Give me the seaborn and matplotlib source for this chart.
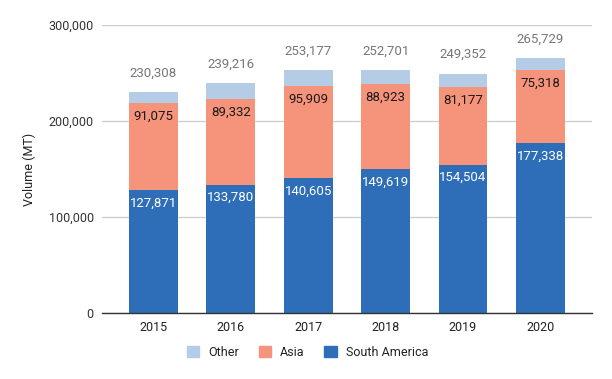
import numpy as np
import pandas as pd
import matplotlib
matplotlib.use('Agg')
import matplotlib.pyplot as plt
import seaborn as sns
from matplotlib.patches import Patch

years = ['2015', '2016', '2017', '2018', '2019', '2020']
south_america = [127871, 133780, 140605, 149619, 154504, 177338]
asia = [91075, 89332, 95909, 88923, 81177, 75318]
totals = [230308, 239216, 253177, 252701, 249352, 265729]
other = [t - s - a for t, s, a in zip(totals, south_america, asia)]

c_sa = '#2e6eb8'
c_asia = '#f5937b'
c_other = '#b4cce6'

sns.set_theme(style='white')
plt.rcParams['font.family'] = ['Roboto', 'DejaVu Sans']

df = pd.DataFrame({'year': years, 'sa': south_america, 'asia': asia, 'other': other})
df['sa_asia'] = df['sa'] + df['asia']
df['total'] = df['sa_asia'] + df['other']

fig = plt.figure(figsize=(6.12, 3.79), dpi=100)
ax = fig.add_axes([0.1667, 0.174, 0.8003, 0.76])

# stacked: draw cumulative heights back to front
for col, c in [('total', c_other), ('sa_asia', c_asia), ('sa', c_sa)]:
    sns.barplot(data=df, x='year', y=col, color=c, width=0.63, saturation=1,
                linewidth=0, ax=ax)

for i in range(len(years)):
    ax.annotate(f'{south_america[i]:,}', xy=(i, df['sa'][i]), xytext=(0, -13),
                textcoords='offset pixels', ha='center', va='center', color='white', fontsize=9.5)
    ax.annotate(f'{asia[i]:,}', xy=(i, df['sa_asia'][i]), xytext=(0, -13),
                textcoords='offset pixels', ha='center', va='center', color='#1a1a1a', fontsize=9.5)
    ax.annotate(f'{totals[i]:,}', xy=(i, df['total'][i]), xytext=(0, 19),
                textcoords='offset pixels', ha='center', va='center', color='#777777', fontsize=9.5)

ax.set_ylim(0, 300000)
ax.set_xlim(-0.665, 5.665)
ax.set_yticks([0, 100000, 200000, 300000])
ax.set_yticklabels([f'{v:,}' for v in [0, 100000, 200000, 300000]])
ax.grid(axis='y', color='#cccccc', linewidth=0.9)
ax.set_axisbelow(True)
for s in ['top', 'right', 'left']:
    ax.spines[s].set_visible(False)
ax.spines['bottom'].set_color('#333333')
ax.spines['bottom'].set_linewidth(1)
ax.tick_params(axis='y', length=0, pad=6, labelsize=9, labelcolor='#333333')
ax.tick_params(axis='x', length=0, pad=6, labelsize=9, labelcolor='#222222')
ax.set_xlabel('')
ax.set_ylabel('Volume (MT)', fontsize=9, color='#222222', labelpad=9)

handles = [Patch(color=c_other, label='Other'), Patch(color=c_asia, label='Asia'),
           Patch(color=c_sa, label='South America')]
fig.legend(handles=handles, loc='center', bbox_to_anchor=(0.502, 0.07), ncol=3, frameon=False,
           fontsize=9, handlelength=1.0, handleheight=1.0, columnspacing=1.6, handletextpad=0.7,
           labelcolor='#222222')

fig.savefig('out.png', dpi=100)
